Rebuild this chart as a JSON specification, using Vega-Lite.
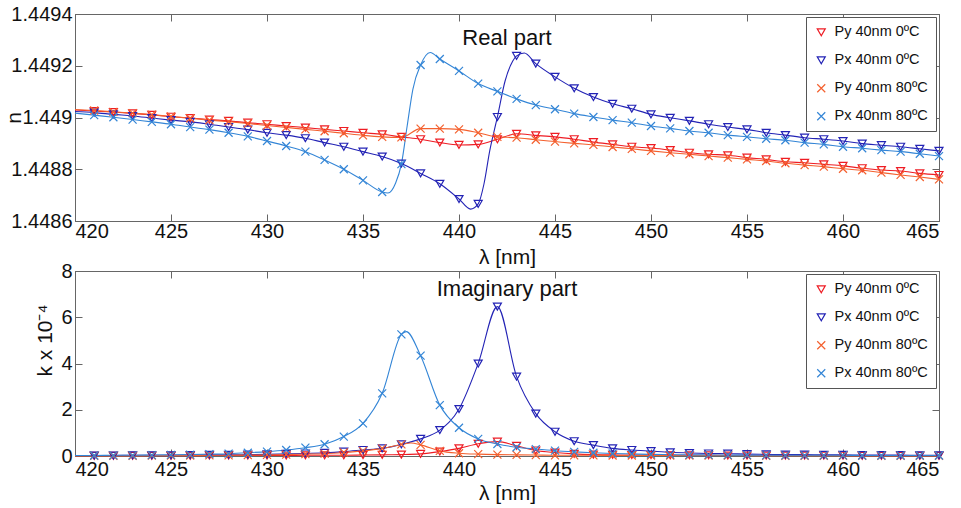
{
"$schema": "https://vega.github.io/schema/vega-lite/v6.json",
"padding": {"left": 3, "top": 3, "right": 5, "bottom": 0},
"config": {
  "font": "Liberation Sans",
  "view": {"stroke": "#666"},
  "axis": {"grid": false, "domainColor": "#666", "tickColor": "#666", "tickSize": -7, "labelFontSize": 20, "labelColor": "#111", "titleFontSize": 21, "titleFontWeight": "normal", "titleColor": "#111", "labelPadding": 10},
  "legend": {"orient": "top-right", "offset": 3, "padding": 8, "rowPadding": 13, "labelFontSize": 14.5, "labelColor": "#111", "strokeColor": "#555", "fillColor": "white", "symbolStrokeWidth": 1.2, "labelOffset": 6, "title": null},
  "title": {"fontSize": 22, "fontWeight": "normal", "color": "#111", "anchor": "middle", "frame": "group", "baseline": "alphabetic"}
},
"datasets": {
"real": [
{"lam":420,"n":1.449029,"s":"Py 40nm 0ºC"},{"lam":421,"n":1.449025,"s":"Py 40nm 0ºC"},{"lam":422,"n":1.449021,"s":"Py 40nm 0ºC"},{"lam":423,"n":1.449016,"s":"Py 40nm 0ºC"},{"lam":424,"n":1.44901,"s":"Py 40nm 0ºC"},{"lam":425,"n":1.449003,"s":"Py 40nm 0ºC"},{"lam":426,"n":1.448998,"s":"Py 40nm 0ºC"},{"lam":427,"n":1.448992,"s":"Py 40nm 0ºC"},{"lam":428,"n":1.448987,"s":"Py 40nm 0ºC"},{"lam":429,"n":1.44898,"s":"Py 40nm 0ºC"},{"lam":430,"n":1.448974,"s":"Py 40nm 0ºC"},{"lam":431,"n":1.448967,"s":"Py 40nm 0ºC"},{"lam":432,"n":1.448961,"s":"Py 40nm 0ºC"},{"lam":433,"n":1.448954,"s":"Py 40nm 0ºC"},{"lam":434,"n":1.448948,"s":"Py 40nm 0ºC"},{"lam":435,"n":1.448941,"s":"Py 40nm 0ºC"},{"lam":436,"n":1.448935,"s":"Py 40nm 0ºC"},{"lam":437,"n":1.448925,"s":"Py 40nm 0ºC"},{"lam":438,"n":1.448916,"s":"Py 40nm 0ºC"},{"lam":439,"n":1.448903,"s":"Py 40nm 0ºC"},{"lam":440,"n":1.448894,"s":"Py 40nm 0ºC"},{"lam":441,"n":1.448896,"s":"Py 40nm 0ºC"},{"lam":442,"n":1.448916,"s":"Py 40nm 0ºC"},{"lam":443,"n":1.448937,"s":"Py 40nm 0ºC"},{"lam":444,"n":1.448931,"s":"Py 40nm 0ºC"},{"lam":445,"n":1.448925,"s":"Py 40nm 0ºC"},{"lam":446,"n":1.448916,"s":"Py 40nm 0ºC"},{"lam":447,"n":1.448905,"s":"Py 40nm 0ºC"},{"lam":448,"n":1.448896,"s":"Py 40nm 0ºC"},{"lam":449,"n":1.448887,"s":"Py 40nm 0ºC"},{"lam":450,"n":1.448882,"s":"Py 40nm 0ºC"},{"lam":451,"n":1.448874,"s":"Py 40nm 0ºC"},{"lam":452,"n":1.448864,"s":"Py 40nm 0ºC"},{"lam":453,"n":1.448858,"s":"Py 40nm 0ºC"},{"lam":454,"n":1.448854,"s":"Py 40nm 0ºC"},{"lam":455,"n":1.448845,"s":"Py 40nm 0ºC"},{"lam":456,"n":1.448838,"s":"Py 40nm 0ºC"},{"lam":457,"n":1.448829,"s":"Py 40nm 0ºC"},{"lam":458,"n":1.448825,"s":"Py 40nm 0ºC"},{"lam":459,"n":1.448819,"s":"Py 40nm 0ºC"},{"lam":460,"n":1.448813,"s":"Py 40nm 0ºC"},{"lam":461,"n":1.448804,"s":"Py 40nm 0ºC"},{"lam":462,"n":1.448797,"s":"Py 40nm 0ºC"},{"lam":463,"n":1.448793,"s":"Py 40nm 0ºC"},{"lam":464,"n":1.448784,"s":"Py 40nm 0ºC"},{"lam":465,"n":1.448778,"s":"Py 40nm 0ºC"},
{"lam":420,"n":1.449023,"s":"Px 40nm 0ºC"},{"lam":421,"n":1.449019,"s":"Px 40nm 0ºC"},{"lam":422,"n":1.449012,"s":"Px 40nm 0ºC"},{"lam":423,"n":1.449006,"s":"Px 40nm 0ºC"},{"lam":424,"n":1.448998,"s":"Px 40nm 0ºC"},{"lam":425,"n":1.44899,"s":"Px 40nm 0ºC"},{"lam":426,"n":1.448983,"s":"Px 40nm 0ºC"},{"lam":427,"n":1.448974,"s":"Px 40nm 0ºC"},{"lam":428,"n":1.448963,"s":"Px 40nm 0ºC"},{"lam":429,"n":1.448953,"s":"Px 40nm 0ºC"},{"lam":430,"n":1.448941,"s":"Px 40nm 0ºC"},{"lam":431,"n":1.448932,"s":"Px 40nm 0ºC"},{"lam":432,"n":1.44892,"s":"Px 40nm 0ºC"},{"lam":433,"n":1.448903,"s":"Px 40nm 0ºC"},{"lam":434,"n":1.448887,"s":"Px 40nm 0ºC"},{"lam":435,"n":1.448868,"s":"Px 40nm 0ºC"},{"lam":436,"n":1.448849,"s":"Px 40nm 0ºC"},{"lam":437,"n":1.448822,"s":"Px 40nm 0ºC"},{"lam":438,"n":1.448784,"s":"Px 40nm 0ºC"},{"lam":439,"n":1.448744,"s":"Px 40nm 0ºC"},{"lam":440,"n":1.448685,"s":"Px 40nm 0ºC"},{"lam":440.6,"n":1.448646,"s":"Px 40nm 0ºC"},{"lam":441,"n":1.448666,"s":"Px 40nm 0ºC"},{"lam":441.3,"n":1.448743,"s":"Px 40nm 0ºC"},{"lam":441.6,"n":1.448871,"s":"Px 40nm 0ºC"},{"lam":442,"n":1.449002,"s":"Px 40nm 0ºC"},{"lam":442.4,"n":1.449141,"s":"Px 40nm 0ºC"},{"lam":442.8,"n":1.449218,"s":"Px 40nm 0ºC"},{"lam":443,"n":1.449238,"s":"Px 40nm 0ºC"},{"lam":443.4,"n":1.449249,"s":"Px 40nm 0ºC"},{"lam":444,"n":1.449208,"s":"Px 40nm 0ºC"},{"lam":445,"n":1.449157,"s":"Px 40nm 0ºC"},{"lam":446,"n":1.449113,"s":"Px 40nm 0ºC"},{"lam":447,"n":1.449079,"s":"Px 40nm 0ºC"},{"lam":448,"n":1.449053,"s":"Px 40nm 0ºC"},{"lam":449,"n":1.449034,"s":"Px 40nm 0ºC"},{"lam":450,"n":1.449012,"s":"Px 40nm 0ºC"},{"lam":451,"n":1.448999,"s":"Px 40nm 0ºC"},{"lam":452,"n":1.448987,"s":"Px 40nm 0ºC"},{"lam":453,"n":1.448974,"s":"Px 40nm 0ºC"},{"lam":454,"n":1.448963,"s":"Px 40nm 0ºC"},{"lam":455,"n":1.448954,"s":"Px 40nm 0ºC"},{"lam":456,"n":1.448941,"s":"Px 40nm 0ºC"},{"lam":457,"n":1.448932,"s":"Px 40nm 0ºC"},{"lam":458,"n":1.448922,"s":"Px 40nm 0ºC"},{"lam":459,"n":1.448916,"s":"Px 40nm 0ºC"},{"lam":460,"n":1.448909,"s":"Px 40nm 0ºC"},{"lam":461,"n":1.448899,"s":"Px 40nm 0ºC"},{"lam":462,"n":1.448893,"s":"Px 40nm 0ºC"},{"lam":463,"n":1.448887,"s":"Px 40nm 0ºC"},{"lam":464,"n":1.448879,"s":"Px 40nm 0ºC"},{"lam":465,"n":1.448871,"s":"Px 40nm 0ºC"},
{"lam":420,"n":1.449031,"s":"Py 40nm 80ºC"},{"lam":421,"n":1.449027,"s":"Py 40nm 80ºC"},{"lam":422,"n":1.449022,"s":"Py 40nm 80ºC"},{"lam":423,"n":1.449017,"s":"Py 40nm 80ºC"},{"lam":424,"n":1.449011,"s":"Py 40nm 80ºC"},{"lam":425,"n":1.449004,"s":"Py 40nm 80ºC"},{"lam":426,"n":1.448997,"s":"Py 40nm 80ºC"},{"lam":427,"n":1.44899,"s":"Py 40nm 80ºC"},{"lam":428,"n":1.448984,"s":"Py 40nm 80ºC"},{"lam":429,"n":1.448977,"s":"Py 40nm 80ºC"},{"lam":430,"n":1.448969,"s":"Py 40nm 80ºC"},{"lam":431,"n":1.448962,"s":"Py 40nm 80ºC"},{"lam":432,"n":1.448954,"s":"Py 40nm 80ºC"},{"lam":433,"n":1.448947,"s":"Py 40nm 80ºC"},{"lam":434,"n":1.448939,"s":"Py 40nm 80ºC"},{"lam":435,"n":1.448931,"s":"Py 40nm 80ºC"},{"lam":436,"n":1.448925,"s":"Py 40nm 80ºC"},{"lam":437,"n":1.448923,"s":"Py 40nm 80ºC"},{"lam":438,"n":1.448957,"s":"Py 40nm 80ºC"},{"lam":439,"n":1.448957,"s":"Py 40nm 80ºC"},{"lam":440,"n":1.448954,"s":"Py 40nm 80ºC"},{"lam":441,"n":1.448941,"s":"Py 40nm 80ºC"},{"lam":442,"n":1.448925,"s":"Py 40nm 80ºC"},{"lam":443,"n":1.448922,"s":"Py 40nm 80ºC"},{"lam":444,"n":1.448914,"s":"Py 40nm 80ºC"},{"lam":445,"n":1.448907,"s":"Py 40nm 80ºC"},{"lam":446,"n":1.4489,"s":"Py 40nm 80ºC"},{"lam":447,"n":1.448894,"s":"Py 40nm 80ºC"},{"lam":448,"n":1.448886,"s":"Py 40nm 80ºC"},{"lam":449,"n":1.448879,"s":"Py 40nm 80ºC"},{"lam":450,"n":1.448871,"s":"Py 40nm 80ºC"},{"lam":451,"n":1.448864,"s":"Py 40nm 80ºC"},{"lam":452,"n":1.448858,"s":"Py 40nm 80ºC"},{"lam":453,"n":1.448851,"s":"Py 40nm 80ºC"},{"lam":454,"n":1.448845,"s":"Py 40nm 80ºC"},{"lam":455,"n":1.448838,"s":"Py 40nm 80ºC"},{"lam":456,"n":1.448832,"s":"Py 40nm 80ºC"},{"lam":457,"n":1.448823,"s":"Py 40nm 80ºC"},{"lam":458,"n":1.448816,"s":"Py 40nm 80ºC"},{"lam":459,"n":1.44881,"s":"Py 40nm 80ºC"},{"lam":460,"n":1.448802,"s":"Py 40nm 80ºC"},{"lam":461,"n":1.448796,"s":"Py 40nm 80ºC"},{"lam":462,"n":1.448787,"s":"Py 40nm 80ºC"},{"lam":463,"n":1.448778,"s":"Py 40nm 80ºC"},{"lam":464,"n":1.44877,"s":"Py 40nm 80ºC"},{"lam":465,"n":1.448761,"s":"Py 40nm 80ºC"},
{"lam":420,"n":1.449017,"s":"Px 40nm 80ºC"},{"lam":421,"n":1.449009,"s":"Px 40nm 80ºC"},{"lam":422,"n":1.449001,"s":"Px 40nm 80ºC"},{"lam":423,"n":1.448992,"s":"Px 40nm 80ºC"},{"lam":424,"n":1.448983,"s":"Px 40nm 80ºC"},{"lam":425,"n":1.448974,"s":"Px 40nm 80ºC"},{"lam":426,"n":1.448963,"s":"Px 40nm 80ºC"},{"lam":427,"n":1.448953,"s":"Px 40nm 80ºC"},{"lam":428,"n":1.448941,"s":"Px 40nm 80ºC"},{"lam":429,"n":1.448927,"s":"Px 40nm 80ºC"},{"lam":430,"n":1.448909,"s":"Px 40nm 80ºC"},{"lam":431,"n":1.44889,"s":"Px 40nm 80ºC"},{"lam":432,"n":1.448868,"s":"Px 40nm 80ºC"},{"lam":433,"n":1.448836,"s":"Px 40nm 80ºC"},{"lam":434,"n":1.4488,"s":"Px 40nm 80ºC"},{"lam":435,"n":1.448757,"s":"Px 40nm 80ºC"},{"lam":436,"n":1.448712,"s":"Px 40nm 80ºC"},{"lam":436.3,"n":1.448708,"s":"Px 40nm 80ºC"},{"lam":436.7,"n":1.448747,"s":"Px 40nm 80ºC"},{"lam":437,"n":1.44882,"s":"Px 40nm 80ºC"},{"lam":437.3,"n":1.448967,"s":"Px 40nm 80ºC"},{"lam":437.6,"n":1.44911,"s":"Px 40nm 80ºC"},{"lam":438,"n":1.449203,"s":"Px 40nm 80ºC"},{"lam":438.5,"n":1.449251,"s":"Px 40nm 80ºC"},{"lam":439,"n":1.449226,"s":"Px 40nm 80ºC"},{"lam":440,"n":1.44918,"s":"Px 40nm 80ºC"},{"lam":441,"n":1.449131,"s":"Px 40nm 80ºC"},{"lam":442,"n":1.449101,"s":"Px 40nm 80ºC"},{"lam":443,"n":1.449072,"s":"Px 40nm 80ºC"},{"lam":444,"n":1.449048,"s":"Px 40nm 80ºC"},{"lam":445,"n":1.449032,"s":"Px 40nm 80ºC"},{"lam":446,"n":1.449015,"s":"Px 40nm 80ºC"},{"lam":447,"n":1.449002,"s":"Px 40nm 80ºC"},{"lam":448,"n":1.44899,"s":"Px 40nm 80ºC"},{"lam":449,"n":1.44898,"s":"Px 40nm 80ºC"},{"lam":450,"n":1.448967,"s":"Px 40nm 80ºC"},{"lam":451,"n":1.448958,"s":"Px 40nm 80ºC"},{"lam":452,"n":1.448948,"s":"Px 40nm 80ºC"},{"lam":453,"n":1.448941,"s":"Px 40nm 80ºC"},{"lam":454,"n":1.448932,"s":"Px 40nm 80ºC"},{"lam":455,"n":1.448925,"s":"Px 40nm 80ºC"},{"lam":456,"n":1.448918,"s":"Px 40nm 80ºC"},{"lam":457,"n":1.448912,"s":"Px 40nm 80ºC"},{"lam":458,"n":1.448903,"s":"Px 40nm 80ºC"},{"lam":459,"n":1.448896,"s":"Px 40nm 80ºC"},{"lam":460,"n":1.448887,"s":"Px 40nm 80ºC"},{"lam":461,"n":1.448881,"s":"Px 40nm 80ºC"},{"lam":462,"n":1.448874,"s":"Px 40nm 80ºC"},{"lam":463,"n":1.448868,"s":"Px 40nm 80ºC"},{"lam":464,"n":1.44886,"s":"Px 40nm 80ºC"},{"lam":465,"n":1.448851,"s":"Px 40nm 80ºC"}
],
"imag": [
{"lam":420,"k":0.01,"s":"Py 40nm 0ºC"},{"lam":421,"k":0.01,"s":"Py 40nm 0ºC"},{"lam":422,"k":0.01,"s":"Py 40nm 0ºC"},{"lam":423,"k":0.01,"s":"Py 40nm 0ºC"},{"lam":424,"k":0.01,"s":"Py 40nm 0ºC"},{"lam":425,"k":0.01,"s":"Py 40nm 0ºC"},{"lam":426,"k":0.01,"s":"Py 40nm 0ºC"},{"lam":427,"k":0.02,"s":"Py 40nm 0ºC"},{"lam":428,"k":0.02,"s":"Py 40nm 0ºC"},{"lam":429,"k":0.02,"s":"Py 40nm 0ºC"},{"lam":430,"k":0.02,"s":"Py 40nm 0ºC"},{"lam":431,"k":0.02,"s":"Py 40nm 0ºC"},{"lam":432,"k":0.03,"s":"Py 40nm 0ºC"},{"lam":433,"k":0.03,"s":"Py 40nm 0ºC"},{"lam":434,"k":0.03,"s":"Py 40nm 0ºC"},{"lam":435,"k":0.04,"s":"Py 40nm 0ºC"},{"lam":436,"k":0.05,"s":"Py 40nm 0ºC"},{"lam":437,"k":0.06,"s":"Py 40nm 0ºC"},{"lam":438,"k":0.09,"s":"Py 40nm 0ºC"},{"lam":439,"k":0.19,"s":"Py 40nm 0ºC"},{"lam":440,"k":0.33,"s":"Py 40nm 0ºC"},{"lam":441,"k":0.53,"s":"Py 40nm 0ºC"},{"lam":442,"k":0.62,"s":"Py 40nm 0ºC"},{"lam":443,"k":0.44,"s":"Py 40nm 0ºC"},{"lam":444,"k":0.24,"s":"Py 40nm 0ºC"},{"lam":445,"k":0.15,"s":"Py 40nm 0ºC"},{"lam":446,"k":0.09,"s":"Py 40nm 0ºC"},{"lam":447,"k":0.06,"s":"Py 40nm 0ºC"},{"lam":448,"k":0.05,"s":"Py 40nm 0ºC"},{"lam":449,"k":0.04,"s":"Py 40nm 0ºC"},{"lam":450,"k":0.04,"s":"Py 40nm 0ºC"},{"lam":451,"k":0.03,"s":"Py 40nm 0ºC"},{"lam":452,"k":0.03,"s":"Py 40nm 0ºC"},{"lam":453,"k":0.03,"s":"Py 40nm 0ºC"},{"lam":454,"k":0.02,"s":"Py 40nm 0ºC"},{"lam":455,"k":0.02,"s":"Py 40nm 0ºC"},{"lam":456,"k":0.02,"s":"Py 40nm 0ºC"},{"lam":457,"k":0.02,"s":"Py 40nm 0ºC"},{"lam":458,"k":0.02,"s":"Py 40nm 0ºC"},{"lam":459,"k":0.02,"s":"Py 40nm 0ºC"},{"lam":460,"k":0.02,"s":"Py 40nm 0ºC"},{"lam":461,"k":0.01,"s":"Py 40nm 0ºC"},{"lam":462,"k":0.01,"s":"Py 40nm 0ºC"},{"lam":463,"k":0.01,"s":"Py 40nm 0ºC"},{"lam":464,"k":0.01,"s":"Py 40nm 0ºC"},{"lam":465,"k":0.01,"s":"Py 40nm 0ºC"},
{"lam":420,"k":0.02,"s":"Px 40nm 0ºC"},{"lam":421,"k":0.02,"s":"Px 40nm 0ºC"},{"lam":422,"k":0.02,"s":"Px 40nm 0ºC"},{"lam":423,"k":0.03,"s":"Px 40nm 0ºC"},{"lam":424,"k":0.03,"s":"Px 40nm 0ºC"},{"lam":425,"k":0.03,"s":"Px 40nm 0ºC"},{"lam":426,"k":0.04,"s":"Px 40nm 0ºC"},{"lam":427,"k":0.05,"s":"Px 40nm 0ºC"},{"lam":428,"k":0.05,"s":"Px 40nm 0ºC"},{"lam":429,"k":0.06,"s":"Px 40nm 0ºC"},{"lam":430,"k":0.07,"s":"Px 40nm 0ºC"},{"lam":431,"k":0.09,"s":"Px 40nm 0ºC"},{"lam":432,"k":0.11,"s":"Px 40nm 0ºC"},{"lam":433,"k":0.14,"s":"Px 40nm 0ºC"},{"lam":434,"k":0.19,"s":"Px 40nm 0ºC"},{"lam":435,"k":0.26,"s":"Px 40nm 0ºC"},{"lam":436,"k":0.33,"s":"Px 40nm 0ºC"},{"lam":437,"k":0.5,"s":"Px 40nm 0ºC"},{"lam":438,"k":0.74,"s":"Px 40nm 0ºC"},{"lam":439,"k":1.12,"s":"Px 40nm 0ºC"},{"lam":440,"k":2.03,"s":"Px 40nm 0ºC"},{"lam":441,"k":4.0,"s":"Px 40nm 0ºC"},{"lam":442,"k":6.46,"s":"Px 40nm 0ºC"},{"lam":443,"k":3.43,"s":"Px 40nm 0ºC"},{"lam":444,"k":1.83,"s":"Px 40nm 0ºC"},{"lam":445,"k":1.05,"s":"Px 40nm 0ºC"},{"lam":446,"k":0.64,"s":"Px 40nm 0ºC"},{"lam":447,"k":0.47,"s":"Px 40nm 0ºC"},{"lam":448,"k":0.33,"s":"Px 40nm 0ºC"},{"lam":449,"k":0.26,"s":"Px 40nm 0ºC"},{"lam":450,"k":0.21,"s":"Px 40nm 0ºC"},{"lam":451,"k":0.16,"s":"Px 40nm 0ºC"},{"lam":452,"k":0.13,"s":"Px 40nm 0ºC"},{"lam":453,"k":0.11,"s":"Px 40nm 0ºC"},{"lam":454,"k":0.1,"s":"Px 40nm 0ºC"},{"lam":455,"k":0.08,"s":"Px 40nm 0ºC"},{"lam":456,"k":0.07,"s":"Px 40nm 0ºC"},{"lam":457,"k":0.06,"s":"Px 40nm 0ºC"},{"lam":458,"k":0.06,"s":"Px 40nm 0ºC"},{"lam":459,"k":0.05,"s":"Px 40nm 0ºC"},{"lam":460,"k":0.05,"s":"Px 40nm 0ºC"},{"lam":461,"k":0.04,"s":"Px 40nm 0ºC"},{"lam":462,"k":0.04,"s":"Px 40nm 0ºC"},{"lam":463,"k":0.04,"s":"Px 40nm 0ºC"},{"lam":464,"k":0.03,"s":"Px 40nm 0ºC"},{"lam":465,"k":0.03,"s":"Px 40nm 0ºC"},
{"lam":420,"k":0.01,"s":"Py 40nm 80ºC"},{"lam":421,"k":0.01,"s":"Py 40nm 80ºC"},{"lam":422,"k":0.01,"s":"Py 40nm 80ºC"},{"lam":423,"k":0.01,"s":"Py 40nm 80ºC"},{"lam":424,"k":0.02,"s":"Py 40nm 80ºC"},{"lam":425,"k":0.02,"s":"Py 40nm 80ºC"},{"lam":426,"k":0.02,"s":"Py 40nm 80ºC"},{"lam":427,"k":0.03,"s":"Py 40nm 80ºC"},{"lam":428,"k":0.03,"s":"Py 40nm 80ºC"},{"lam":429,"k":0.04,"s":"Py 40nm 80ºC"},{"lam":430,"k":0.05,"s":"Py 40nm 80ºC"},{"lam":431,"k":0.06,"s":"Py 40nm 80ºC"},{"lam":432,"k":0.08,"s":"Py 40nm 80ºC"},{"lam":433,"k":0.1,"s":"Py 40nm 80ºC"},{"lam":434,"k":0.15,"s":"Py 40nm 80ºC"},{"lam":435,"k":0.22,"s":"Py 40nm 80ºC"},{"lam":436,"k":0.33,"s":"Py 40nm 80ºC"},{"lam":437,"k":0.5,"s":"Py 40nm 80ºC"},{"lam":437.5,"k":0.56,"s":"Py 40nm 80ºC"},{"lam":438,"k":0.48,"s":"Py 40nm 80ºC"},{"lam":439,"k":0.22,"s":"Py 40nm 80ºC"},{"lam":440,"k":0.12,"s":"Py 40nm 80ºC"},{"lam":441,"k":0.08,"s":"Py 40nm 80ºC"},{"lam":442,"k":0.06,"s":"Py 40nm 80ºC"},{"lam":443,"k":0.05,"s":"Py 40nm 80ºC"},{"lam":444,"k":0.04,"s":"Py 40nm 80ºC"},{"lam":445,"k":0.03,"s":"Py 40nm 80ºC"},{"lam":446,"k":0.03,"s":"Py 40nm 80ºC"},{"lam":447,"k":0.03,"s":"Py 40nm 80ºC"},{"lam":448,"k":0.02,"s":"Py 40nm 80ºC"},{"lam":449,"k":0.02,"s":"Py 40nm 80ºC"},{"lam":450,"k":0.02,"s":"Py 40nm 80ºC"},{"lam":451,"k":0.02,"s":"Py 40nm 80ºC"},{"lam":452,"k":0.02,"s":"Py 40nm 80ºC"},{"lam":453,"k":0.02,"s":"Py 40nm 80ºC"},{"lam":454,"k":0.02,"s":"Py 40nm 80ºC"},{"lam":455,"k":0.02,"s":"Py 40nm 80ºC"},{"lam":456,"k":0.01,"s":"Py 40nm 80ºC"},{"lam":457,"k":0.01,"s":"Py 40nm 80ºC"},{"lam":458,"k":0.01,"s":"Py 40nm 80ºC"},{"lam":459,"k":0.01,"s":"Py 40nm 80ºC"},{"lam":460,"k":0.01,"s":"Py 40nm 80ºC"},{"lam":461,"k":0.01,"s":"Py 40nm 80ºC"},{"lam":462,"k":0.01,"s":"Py 40nm 80ºC"},{"lam":463,"k":0.01,"s":"Py 40nm 80ºC"},{"lam":464,"k":0.01,"s":"Py 40nm 80ºC"},{"lam":465,"k":0.01,"s":"Py 40nm 80ºC"},
{"lam":420,"k":0.02,"s":"Px 40nm 80ºC"},{"lam":421,"k":0.02,"s":"Px 40nm 80ºC"},{"lam":422,"k":0.03,"s":"Px 40nm 80ºC"},{"lam":423,"k":0.03,"s":"Px 40nm 80ºC"},{"lam":424,"k":0.04,"s":"Px 40nm 80ºC"},{"lam":425,"k":0.05,"s":"Px 40nm 80ºC"},{"lam":426,"k":0.06,"s":"Px 40nm 80ºC"},{"lam":427,"k":0.08,"s":"Px 40nm 80ºC"},{"lam":428,"k":0.1,"s":"Px 40nm 80ºC"},{"lam":429,"k":0.14,"s":"Px 40nm 80ºC"},{"lam":430,"k":0.19,"s":"Px 40nm 80ºC"},{"lam":431,"k":0.26,"s":"Px 40nm 80ºC"},{"lam":432,"k":0.36,"s":"Px 40nm 80ºC"},{"lam":433,"k":0.51,"s":"Px 40nm 80ºC"},{"lam":434,"k":0.84,"s":"Px 40nm 80ºC"},{"lam":435,"k":1.41,"s":"Px 40nm 80ºC"},{"lam":436,"k":2.71,"s":"Px 40nm 80ºC"},{"lam":437,"k":5.26,"s":"Px 40nm 80ºC"},{"lam":437.25,"k":5.38,"s":"Px 40nm 80ºC"},{"lam":438,"k":4.34,"s":"Px 40nm 80ºC"},{"lam":439,"k":2.2,"s":"Px 40nm 80ºC"},{"lam":440,"k":1.22,"s":"Px 40nm 80ºC"},{"lam":441,"k":0.74,"s":"Px 40nm 80ºC"},{"lam":442,"k":0.52,"s":"Px 40nm 80ºC"},{"lam":443,"k":0.38,"s":"Px 40nm 80ºC"},{"lam":444,"k":0.3,"s":"Px 40nm 80ºC"},{"lam":445,"k":0.23,"s":"Px 40nm 80ºC"},{"lam":446,"k":0.18,"s":"Px 40nm 80ºC"},{"lam":447,"k":0.14,"s":"Px 40nm 80ºC"},{"lam":448,"k":0.11,"s":"Px 40nm 80ºC"},{"lam":449,"k":0.09,"s":"Px 40nm 80ºC"},{"lam":450,"k":0.07,"s":"Px 40nm 80ºC"},{"lam":451,"k":0.06,"s":"Px 40nm 80ºC"},{"lam":452,"k":0.05,"s":"Px 40nm 80ºC"},{"lam":453,"k":0.05,"s":"Px 40nm 80ºC"},{"lam":454,"k":0.04,"s":"Px 40nm 80ºC"},{"lam":455,"k":0.04,"s":"Px 40nm 80ºC"},{"lam":456,"k":0.03,"s":"Px 40nm 80ºC"},{"lam":457,"k":0.03,"s":"Px 40nm 80ºC"},{"lam":458,"k":0.03,"s":"Px 40nm 80ºC"},{"lam":459,"k":0.03,"s":"Px 40nm 80ºC"},{"lam":460,"k":0.03,"s":"Px 40nm 80ºC"},{"lam":461,"k":0.02,"s":"Px 40nm 80ºC"},{"lam":462,"k":0.02,"s":"Px 40nm 80ºC"},{"lam":463,"k":0.02,"s":"Px 40nm 80ºC"},{"lam":464,"k":0.02,"s":"Px 40nm 80ºC"},{"lam":465,"k":0.02,"s":"Px 40nm 80ºC"}
]
},
"spacing": -8,
"resolve": {"scale": {"color": "independent", "shape": "independent", "size": "independent"}, "legend": {"color": "independent", "shape": "independent", "size": "independent"}},
"vconcat": [
{
  "width": 864, "height": 207,
  "title": {"text": "Real part", "offset": -46},
  "data": {"name": "real"},
  "layer": [
    {
      "mark": {"type": "line", "interpolate": "monotone", "strokeWidth": 1.1},
      "encoding": {
        "x": {"field": "lam", "type": "quantitative", "scale": {"domain": [420, 465], "nice": false}, "axis": {"values": [420,425,430,435,440,445,450,455,460,465], "title": "λ [nm]", "labelPadding": 7, "titlePadding": 5}},
        "y": {"field": "n", "type": "quantitative", "scale": {"domain": [1.4486, 1.4494], "zero": false, "nice": false}, "axis": {"values": [1.4486,1.4488,1.449,1.4492,1.4494], "format": ".4~f", "title": "n", "titlePadding": -14}},
        "color": {"field": "s", "type": "nominal", "scale": {"domain": ["Py 40nm 0ºC","Px 40nm 0ºC","Py 40nm 80ºC","Px 40nm 80ºC"], "range": ["#ee1c24","#2323b5","#f4602e","#3385d6"]}}
      }
    },
    {
      "transform": [{"filter": "datum.lam >= 421 && datum.lam == floor(datum.lam)"}],
      "mark": {"type": "point", "filled": false, "strokeWidth": 1.2, "opacity": 1},
      "encoding": {
        "x": {"field": "lam", "type": "quantitative", "axis": {"orient": "top", "values": [420,425,430,435,440,445,450,455,460,465], "labels": false, "title": null}},
        "y": {"field": "n", "type": "quantitative", "axis": {"orient": "right", "values": [1.4486,1.4488,1.449,1.4492,1.4494], "labels": false, "title": null}},
        "color": {"field": "s", "type": "nominal", "scale": {"domain": ["Py 40nm 0ºC","Px 40nm 0ºC","Py 40nm 80ºC","Px 40nm 80ºC"], "range": ["#ee1c24","#2323b5","#f4602e","#3385d6"]}},
        "shape": {"field": "s", "type": "nominal", "scale": {"domain": ["Py 40nm 0ºC","Px 40nm 0ºC","Py 40nm 80ºC","Px 40nm 80ºC"], "range": ["triangle-down","triangle-down","M-1,-1L1,1M-1,1L1,-1","M-1,-1L1,1M-1,1L1,-1"]}},
        "size": {"field": "s", "type": "nominal", "scale": {"domain": ["Py 40nm 0ºC","Px 40nm 0ºC","Py 40nm 80ºC","Px 40nm 80ºC"], "range": [64, 64, 30, 30]}}
      }
    }
  ],
  "resolve": {"axis": {"x": "independent", "y": "independent"}}
},
{
  "width": 864, "height": 185,
  "title": {"text": "Imaginary part", "offset": -40},
  "data": {"name": "imag"},
  "layer": [
    {
      "mark": {"type": "line", "interpolate": "monotone", "strokeWidth": 1.1},
      "encoding": {
        "x": {"field": "lam", "type": "quantitative", "scale": {"domain": [420, 465], "nice": false}, "axis": {"values": [420,425,430,435,440,445,450,455,460,465], "title": "λ [nm]", "titlePadding": 3}},
        "y": {"field": "k", "type": "quantitative", "scale": {"domain": [0, 8], "nice": false}, "axis": {"values": [0,2,4,6,8], "title": "k x 10⁻⁴", "titlePadding": 5, "titleY": 69}},
        "color": {"field": "s", "type": "nominal", "scale": {"domain": ["Py 40nm 0ºC","Px 40nm 0ºC","Py 40nm 80ºC","Px 40nm 80ºC"], "range": ["#ee1c24","#2323b5","#f4602e","#3385d6"]}}
      }
    },
    {
      "transform": [{"filter": "datum.lam >= 421 && datum.lam == floor(datum.lam)"}],
      "mark": {"type": "point", "filled": false, "strokeWidth": 1.2, "opacity": 1},
      "encoding": {
        "x": {"field": "lam", "type": "quantitative", "axis": {"orient": "top", "values": [420,425,430,435,440,445,450,455,460,465], "labels": false, "title": null}},
        "y": {"field": "k", "type": "quantitative", "axis": {"orient": "right", "values": [0,2,4,6,8], "labels": false, "title": null}},
        "color": {"field": "s", "type": "nominal", "scale": {"domain": ["Py 40nm 0ºC","Px 40nm 0ºC","Py 40nm 80ºC","Px 40nm 80ºC"], "range": ["#ee1c24","#2323b5","#f4602e","#3385d6"]}},
        "shape": {"field": "s", "type": "nominal", "scale": {"domain": ["Py 40nm 0ºC","Px 40nm 0ºC","Py 40nm 80ºC","Px 40nm 80ºC"], "range": ["triangle-down","triangle-down","M-1,-1L1,1M-1,1L1,-1","M-1,-1L1,1M-1,1L1,-1"]}},
        "size": {"field": "s", "type": "nominal", "scale": {"domain": ["Py 40nm 0ºC","Px 40nm 0ºC","Py 40nm 80ºC","Px 40nm 80ºC"], "range": [64, 64, 30, 30]}}
      }
    }
  ],
  "resolve": {"axis": {"x": "independent", "y": "independent"}}
}
]
}
